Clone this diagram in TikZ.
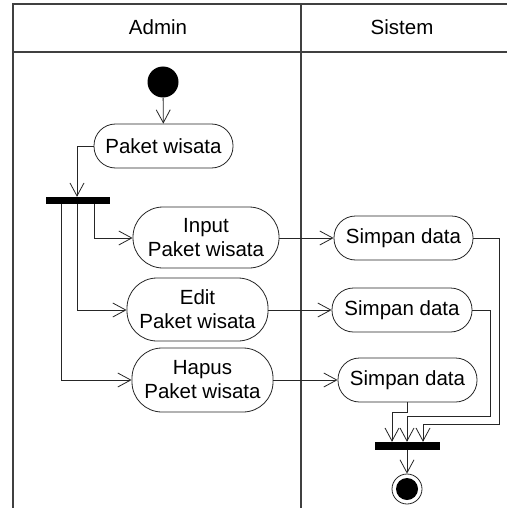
\documentclass[tikz,border=0pt]{standalone}
\usepackage{fontspec}
\setmainfont{Liberation Sans}
\usetikzlibrary{arrows.meta}
\begin{document}
\begin{tikzpicture}[x=1pt,y=-1pt,
  lane/.style={draw=black!75,line width=1.3pt},
  act/.style={draw=black!85,line width=0.8pt,rounded corners=21.5pt,align=center,inner sep=0pt,font=\fontsize{20.5}{24}\selectfont},
  tall/.style={act,rounded corners=30pt},
  bar/.style={fill=black,draw=none,inner sep=0pt},
  flow/.style={draw=black!85,line width=0.8pt,-{Straight Barb[length=13pt,width=14pt,line width=0.8pt]}},
  plain/.style={draw=black!85,line width=0.8pt},
  hdr/.style={font=\fontsize{20.5}{24}\selectfont}]
\useasboundingbox (0,0) rectangle (507,508);
\fill[white] (0,0) rectangle (507,508);
% swimlanes
\draw[lane] (13,508) -- (13,4) -- (507,4);
\draw[lane] (13,52) -- (507,52);
\draw[lane] (301,4) -- (301,508);
\node[hdr] (hA) at (158,27) {Admin};
\node[hdr] (hS) at (402,27) {Sistem};
% nodes
\node[circle,fill=black,minimum size=31pt,inner sep=0pt] (start) at (163,82) {};
\node[act,minimum width=139pt,minimum height=44pt] (pw) at (163.5,146) {Paket wisata};
\node[bar,minimum width=64pt,minimum height=7pt] (fork) at (78,200.5) {};
\node[tall,minimum width=146pt,minimum height=61pt] (inp) at (206,237.5) {Input\\Paket wisata};
\node[tall,minimum width=141pt,minimum height=63pt] (edt) at (197.5,309.5) {Edit\\Paket wisata};
\node[tall,minimum width=141pt,minimum height=64pt] (hap) at (202.5,380) {Hapus\\Paket wisata};
\node[act,minimum width=139pt,minimum height=44pt] (s1) at (403.5,238) {Simpan data};
\node[act,minimum width=140pt,minimum height=44pt] (s2) at (402,310) {Simpan data};
\node[act,minimum width=139pt,minimum height=44pt] (s3) at (407.5,380) {Simpan data};
\node[bar,minimum width=65pt,minimum height=8pt] (join) at (407.5,446) {};
\node[circle,draw=black!85,line width=0.8pt,minimum size=30pt,inner sep=0pt] (endo) at (407,489) {};
\node[circle,fill=black,minimum size=22pt,inner sep=0pt] (endi) at (endo.center) {};
% coordinates
\coordinate (c1) at (77,146);
\coordinate (f94) at (94,204);
\coordinate (f77) at (77,204);
\coordinate (f61) at (61,204);
\coordinate (k1) at (94,238);
\coordinate (k2) at (77,310);
\coordinate (k3) at (61,380);
% flows
\draw[flow] (start) -- (pw);
\draw[flow] (pw.west) -- (c1) -- (fork.north -| c1);
\draw[flow] (f94) -- (k1) -- (inp.west |- k1);
\draw[flow] (f77) -- (k2) -- (edt.west |- k2);
\draw[flow] (f61) -- (k3) -- (hap.west |- k3);
\draw[flow] (inp.east |- s1.west) -- (s1.west);
\draw[flow] (edt.east |- s2.west) -- (s2.west);
\draw[flow] (hap.east |- s3.west) -- (s3.west);
\coordinate (j1a) at (499,238);
\coordinate (j1b) at (499,424);
\coordinate (j1c) at (423,424);
\coordinate (j2a) at (490,310);
\coordinate (j2b) at (490,416);
\coordinate (j2c) at (407,416);
\coordinate (j3a) at (407.5,412);
\coordinate (j3b) at (392,412);
\draw[flow] (s1.east) -- (j1a) -- (j1b) -- (j1c) -- (join.north -| j1c);
\draw[flow] (s2.east) -- (j2a) -- (j2b) -- (j2c) -- (join.north -| j2c);
\draw[flow] (s3.south) -- (j3a) -- (j3b) -- (join.north -| j3b);
\draw[flow] (join.south -| endo) -- (endo.north);
\end{tikzpicture}
\end{document}
